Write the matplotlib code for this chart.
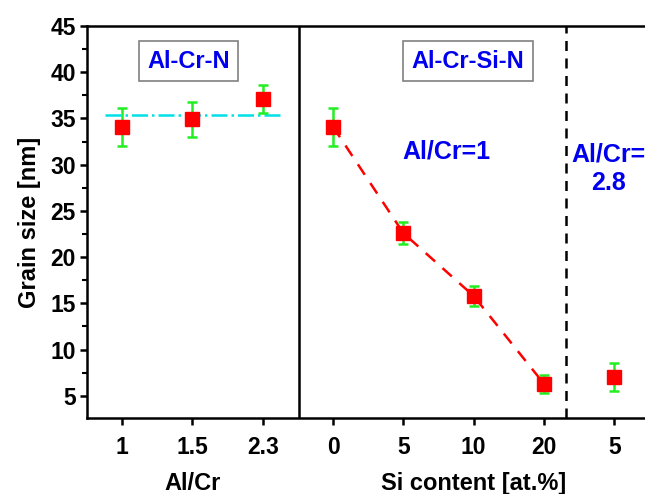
import matplotlib.pyplot as plt
from matplotlib.ticker import MultipleLocator

plt.rcParams['font.family'] = ['Liberation Sans', 'DejaVu Sans']
plt.rcParams['font.weight'] = 'bold'

# Al-Cr-N part
alcr_labels = ["1", "1.5", "2.3"]
alcr_size = [34.1, 34.9, 37.1]
alcr_err = [2.05, 1.9, 1.5]

# Al-Cr-Si-N part (Al/Cr=1)
si_labels = ["0", "5", "10", "20"]
si_size = [34.1, 22.6, 15.8, 6.3]
si_err = [2.05, 1.2, 1.1, 1.0]

# Al-Cr-Si-N part (Al/Cr=2.8)
si28_labels = ["5"]
si28_size = [7.0]
si28_err = [1.5]

labels = alcr_labels + si_labels + si28_labels
x_alcr = list(range(0, 3))
x_si = list(range(3, 7))
x_si28 = [7]

fig = plt.figure(figsize=(6.45, 4.94), dpi=100)
ax = fig.add_axes([87 / 645, 76 / 494, 562.4 / 645, 392 / 494])

err_kw = dict(fmt="none", ecolor="#22ee22", elinewidth=1.8, capsize=3.5, capthick=1.8, zorder=3)
mk_kw = dict(marker="s", markersize=10, color="#ff0000", linestyle="none", zorder=4)

# mean line for Al-Cr-N
mean_alcr = sum(alcr_size) / len(alcr_size)
ax.plot([-0.25, 2.25], [mean_alcr, mean_alcr], color="#00e0e8", linestyle="-.", lw=1.8, zorder=2)
ax.errorbar(x_alcr, alcr_size, yerr=alcr_err, **err_kw)
ax.plot(x_alcr, alcr_size, **mk_kw)

ax.plot(x_si, si_size, color="#ff0000", linestyle=(0, (5, 4)), lw=1.8, zorder=2)
ax.errorbar(x_si, si_size, yerr=si_err, **err_kw)
ax.plot(x_si, si_size, **mk_kw)

ax.errorbar(x_si28, si28_size, yerr=si28_err, **err_kw)
ax.plot(x_si28, si28_size, **mk_kw)

# separators
ax.axvline(2.51, color="black", lw=1.8, zorder=1)
ax.axvline(6.32, color="black", lw=1.8, linestyle=(0, (4, 3)), zorder=1)

ax.set_xlim(-0.5, 7.5)
ax.set_ylim(2.6, 45)
ax.set_xticks(range(len(labels)))
ax.set_xticklabels(labels)
ax.yaxis.set_major_locator(MultipleLocator(5))
ax.yaxis.set_minor_locator(MultipleLocator(2.5))
ax.set_yticks(range(5, 46, 5))
ax.tick_params(axis="both", which="major", direction="out", length=5, width=1.8,
               labelsize=16.5, pad=3)
ax.tick_params(axis="x", which="major", pad=8)
ax.tick_params(axis="y", which="minor", direction="out", length=3.5, width=1.5)
ax.xaxis.set_ticks_position("bottom")
ax.yaxis.set_ticks_position("left")
for lab in ax.get_xticklabels() + ax.get_yticklabels():
    lab.set_fontweight("bold")
for s in ["left", "bottom", "top"]:
    ax.spines[s].set_linewidth(1.8)
ax.spines["right"].set_visible(False)

ax.set_ylabel("Grain size [nm]", fontsize=17, fontweight="bold", labelpad=7)
trans = ax.get_xaxis_transform()
ax.text(1, -0.168, "Al/Cr", transform=trans, ha="center", va="center", fontsize=17, fontweight="bold")
ax.text(5, -0.168, "Si content [at.%]", transform=trans, ha="center", va="center", fontsize=17, fontweight="bold")

box = dict(boxstyle="square,pad=0.35", facecolor="white", edgecolor="#808080", lw=1.2)
ax.text(0.94, 41.2, "Al-Cr-N", ha="center", va="center", fontsize=17, fontweight="bold", color="#0000ee", bbox=box)
ax.text(4.92, 41.2, "Al-Cr-Si-N", ha="center", va="center", fontsize=17, fontweight="bold", color="#0000ee", bbox=box)
ax.text(4.62, 31.4, "Al/Cr=1", ha="center", va="center", fontsize=18, fontweight="bold", color="#0000ee")
ax.text(6.92, 29.6, "Al/Cr=\n2.8", ha="center", va="center", fontsize=18, fontweight="bold",
        color="#0000ee", linespacing=1.25)

plt.savefig("out.png", dpi=100)
